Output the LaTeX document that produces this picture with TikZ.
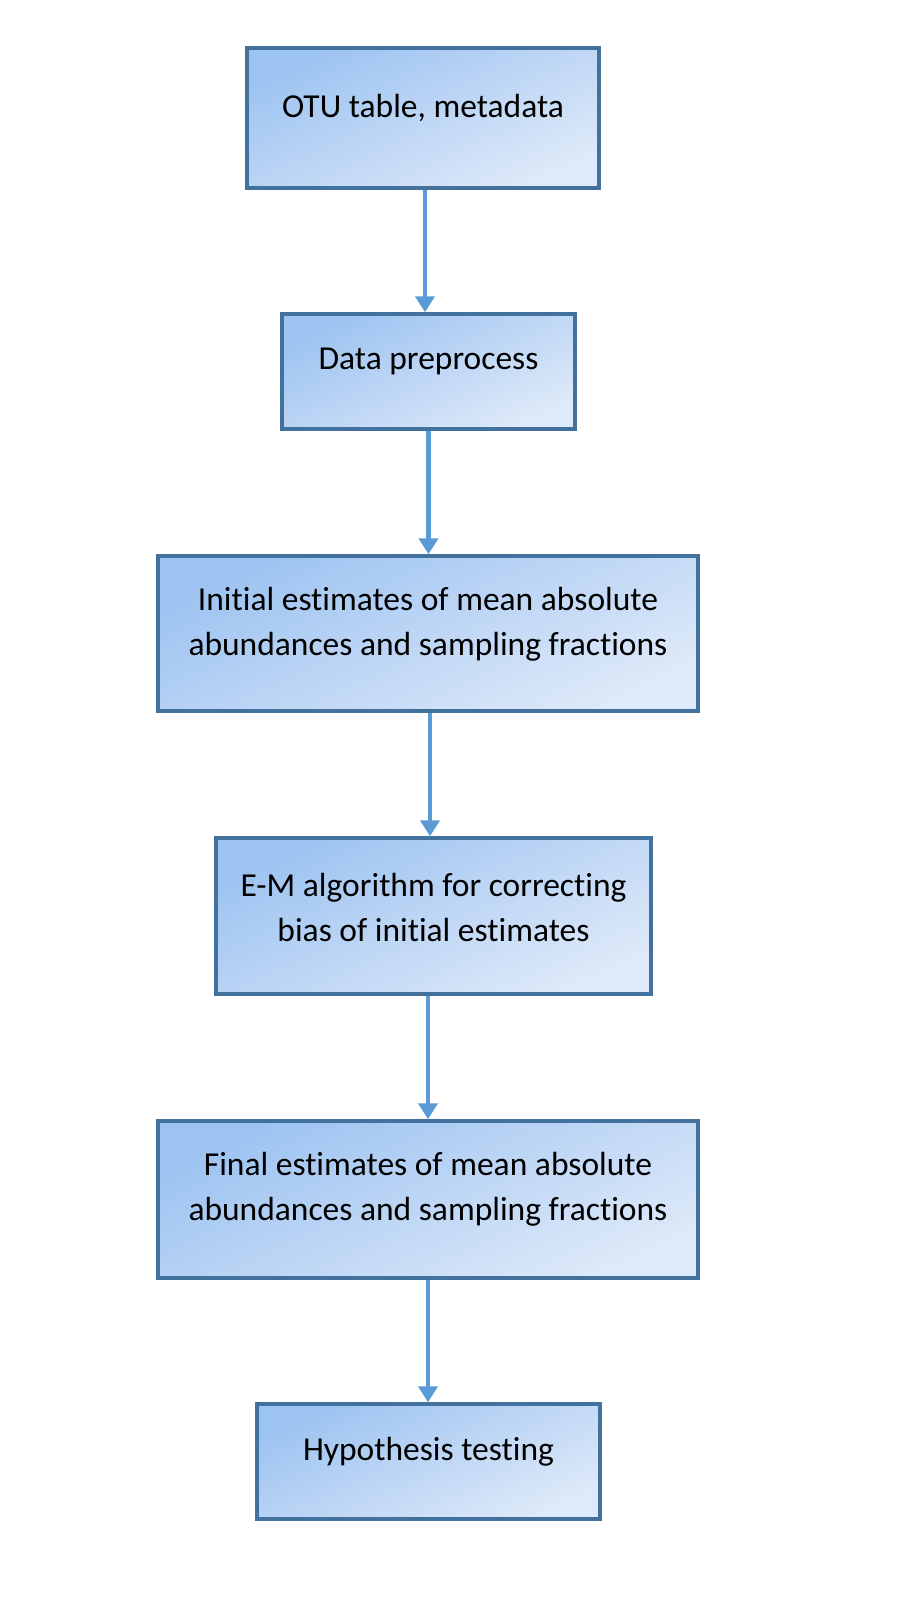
\documentclass[tikz,border=0pt]{standalone}
\usepackage{fontspec}
\setmainfont{Carlito}[Ligatures=NoCommon]
\usetikzlibrary{arrows.meta,calc}
\definecolor{boxline}{HTML}{41719C}
\definecolor{arrowc}{HTML}{5B9BD5}
\definecolor{gradA}{HTML}{9DC3F1}
\definecolor{gradB}{HTML}{DEE9F9}
\tikzset{
  flowbox/.style={draw=boxline, line width=3.5pt, top color=gradA, bottom color=gradB, shading angle=25, inner sep=0pt},
  boxtext/.style={font=\fontsize{33.5}{44.5}\selectfont, align=center, inner sep=0pt, text=black},
  flowarrow/.style={draw=arrowc, line width=4.5pt, -{Triangle[width=19pt,length=16pt]}}
}
\begin{document}
\begin{tikzpicture}[x=1pt,y=-1pt]
\useasboundingbox[fill=white] (0,0) rectangle (902,1609);
\node[flowbox, minimum width=352pt, minimum height=140pt] (b1) at (423,118) {};
\node[flowbox, minimum width=293pt, minimum height=115pt] (b2) at (428.5,371.5) {};
\node[flowbox, minimum width=540pt, minimum height=155pt] (b3) at (428,633.5) {};
\node[flowbox, minimum width=435pt, minimum height=156pt] (b4) at (433.5,916) {};
\node[flowbox, minimum width=540pt, minimum height=157pt] (b5) at (428,1199.5) {};
\node[flowbox, minimum width=343pt, minimum height=115pt] (b6) at (428.5,1461.5) {};
\node[boxtext] (t1) at ($(b1.north)+(0,62)$) {OTU table, metadata};
\node[boxtext] (t2) at ($(b2.north)+(0,49)$) {Data preprocess};
\node[boxtext] (t3) at ($(b3.north)+(0,70)$) {Initial estimates of mean absolute\\abundances and sampling fractions};
\node[boxtext] (t4) at ($(b4.north)+(0,71)$) {E-M algorithm for correcting\\bias of initial estimates};
\node[boxtext] (t5) at ($(b5.north)+(0,70)$) {Final estimates of mean absolute\\abundances and sampling fractions};
\node[boxtext] (t6) at ($(b6.north)+(0,49)$) {Hypothesis testing};
\draw[flowarrow] ($(b1.south)+(2,0)$) -- ($(b1.south |- b2.north)+(2,0)$);
\draw[flowarrow] (b2.south) -- (b2.south |- b3.north);
\draw[flowarrow] ($(b3.south)+(2,0)$) -- ($(b3.south |- b4.north)+(2,0)$);
\draw[flowarrow] (b4.south -| b5.north) -- (b5.north);
\draw[flowarrow] (b5.south) -- (b5.south |- b6.north);
\end{tikzpicture}
\end{document}
